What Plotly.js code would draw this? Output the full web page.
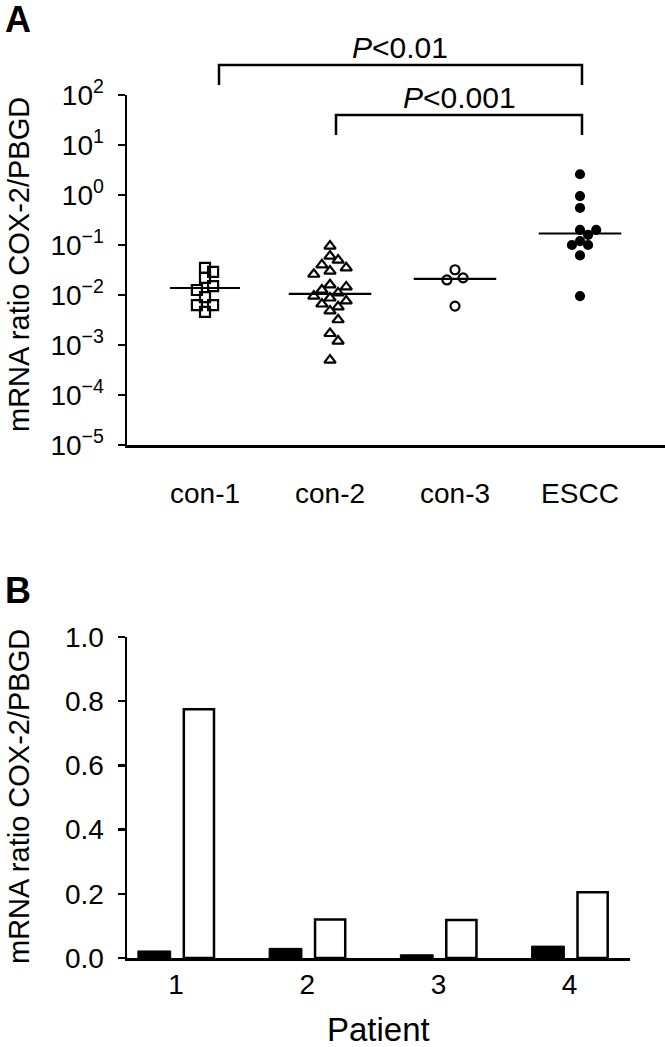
<!DOCTYPE html>
<html>
<head>
<meta charset="utf-8">
<script src="https://cdn.plot.ly/plotly-3.0.1.min.js"></script>
<style>html,body{margin:0;padding:0;background:#fff;}#chart{width:665px;height:1047px;}</style>
</head>
<body>
<div id="chart"></div>
<script>
// ---- Panel A data (mRNA ratio COX-2/PBGD, log scale) ----
const groups = ['con-1', 'con-2', 'con-3', 'ESCC'];
const con1 = [0.035, 0.029, 0.022, 0.015, 0.0126, 0.0091, 0.0063, 0.0063, 0.0046];
const con2 = [0.095, 0.060, 0.050, 0.040, 0.035, 0.030, 0.026, 0.016, 0.0145, 0.0126, 0.011,
              0.0095, 0.0087, 0.0076, 0.0066, 0.0058, 0.0048, 0.0032, 0.0017, 0.0012, 0.0005];
const con3 = [0.032, 0.022, 0.020, 0.006];
const escc = [2.6, 0.95, 0.55, 0.2, 0.2, 0.16, 0.12, 0.1, 0.1, 0.062, 0.0095];
const medians = [0.0138, 0.0105, 0.021, 0.17];
const yTickVals = [1e-5, 1e-4, 1e-3, 1e-2, 1e-1, 1e0, 1e1, 1e2];
const yTickText = ['10<sup>\u22125</sup>', '10<sup>\u22124</sup>', '10<sup>\u22123</sup>', '10<sup>\u22122</sup>',
                   '10<sup>\u22121</sup>', '10<sup>0</sup>', '10<sup>1</sup>', '10<sup>2</sup>'];

// ---- Panel B data ----
const patients = ['1', '2', '3', '4'];
const blackVals = [0.022, 0.030, 0.010, 0.037];
const whiteVals = [0.775, 0.120, 0.118, 0.205];

const FONT = 'Liberation Sans, Arial, Helvetica, sans-serif';
const PX_PER_UNIT = 125, PX_PER_DEC = 50, D = 9;

// simple beeswarm: horizontal offsets computed from the values
function swarm(vals, idx) {
  const pts = vals.map(v => ({v: v, yp: -PX_PER_DEC * Math.log10(v)}));
  pts.sort((a, b) => a.yp - b.yp);
  const placed = [];
  const ks = [0, 1, -1, 2, -2, 3, -3, 4, -4];
  pts.forEach(p => {
    for (const k of ks) {
      const xo = k * D * 0.9;
      if (placed.every(q => Math.hypot(xo - q.xo, p.yp - q.yp) >= D)) { p.xo = xo; break; }
    }
    placed.push(p);
  });
  return {x: pts.map(p => idx + p.xo / PX_PER_UNIT), y: pts.map(p => p.v)};
}

const symbols = ['square-open', 'triangle-up-open', 'circle-open', 'circle'];
const sizes = [10, 10, 9, 8];
const halfWidths = [0.28, 0.33, 0.33, 0.33];
const allData = [con1, con2, con3, escc];
const traces = [];
allData.forEach((vals, i) => {
  const s = swarm(vals, i);
  traces.push({
    type: 'scatter', mode: 'markers', x: s.x, y: s.y, xaxis: 'x', yaxis: 'y',
    marker: {symbol: symbols[i], size: sizes[i], color: 'black', line: {color: 'black', width: 2.2}},
    hoverinfo: 'y'
  });
});
// median lines
medians.forEach((m, i) => {
  traces.push({
    type: 'scatter', mode: 'lines', x: [i - halfWidths[i], i + halfWidths[i]], y: [m, m], xaxis: 'x', yaxis: 'y',
    line: {color: 'black', width: 2.2}, hoverinfo: 'skip'
  });
});
// bars
traces.push({type: 'bar', x: patients, y: blackVals, xaxis: 'x2', yaxis: 'y2', width: 0.25, offset: -0.29,
  marker: {color: 'black', line: {color: 'black', width: 1}}});
traces.push({type: 'bar', x: patients, y: whiteVals, xaxis: 'x2', yaxis: 'y2', width: 0.23, offset: 0.06,
  marker: {color: 'white', line: {color: 'black', width: 2.5}}});

// helpers for paper coords from page pixels
const L = 127, T = 95, B = 89, W = 665, H = 1047;
const pw = W - L, ph = H - T - B;
const px = x => (x - L) / pw;
const py = y => (H - B - y) / ph;

const axisCommon = {showline: true, linecolor: 'black', linewidth: 2.5, showgrid: false, zeroline: false,
  tickfont: {family: FONT, size: 28, color: 'black'}, fixedrange: true};

const layout = {
  width: W, height: H,
  margin: {l: L, r: 0, t: T, b: B},
  paper_bgcolor: 'white', plot_bgcolor: 'white',
  showlegend: false,
  font: {family: FONT, color: 'black'},
  xaxis: Object.assign({}, axisCommon, {domain: [0, 1], anchor: 'y', range: [-0.624, 3.68],
    tickmode: 'array', tickvals: [0, 1, 2, 3], ticktext: groups, ticks: '', ticklabelstandoff: 22}),
  yaxis: Object.assign({}, axisCommon, {domain: [py(445), 1], anchor: 'x', type: 'log', range: [-5, 2],
    tickmode: 'array', tickvals: yTickVals, ticktext: yTickText, ticks: 'outside', ticklen: 7, tickwidth: 2.5,
    tickcolor: 'black', ticklabelstandoff: 8}),
  xaxis2: Object.assign({}, axisCommon, {domain: [0, px(630)], anchor: 'y2', type: 'category',
    range: [-0.373, 3.46], ticks: '', ticklabelstandoff: 0}),
  yaxis2: Object.assign({}, axisCommon, {domain: [0, py(637)], anchor: 'x2', range: [0, 1],
    tickmode: 'array', tickvals: [0, 0.2, 0.4, 0.6, 0.8, 1.0], tickformat: '.1f',
    ticks: 'outside', ticklen: 7, tickwidth: 2.5, tickcolor: 'black', ticklabelstandoff: 8}),
  shapes: [
    {type: 'path', xref: 'paper', yref: 'paper', line: {color: 'black', width: 2.5},
     path: `M ${px(219)},${py(85)} L ${px(219)},${py(65)} L ${px(582)},${py(65)} L ${px(582)},${py(85)}`},
    {type: 'path', xref: 'paper', yref: 'paper', line: {color: 'black', width: 2.5},
     path: `M ${px(336)},${py(135)} L ${px(336)},${py(115)} L ${px(582)},${py(115)} L ${px(582)},${py(135)}`}
  ],
  annotations: [
    {text: '<b>A</b>', xref: 'paper', yref: 'paper', x: px(3), y: py(20), xanchor: 'left', yanchor: 'middle',
     showarrow: false, font: {family: FONT, size: 36, color: 'black'}},
    {text: '<b>B</b>', xref: 'paper', yref: 'paper', x: px(3), y: py(590), xanchor: 'left', yanchor: 'middle',
     showarrow: false, font: {family: FONT, size: 36, color: 'black'}},
    {text: '<i>P</i>&lt;0.01', xref: 'paper', yref: 'paper', x: px(400), y: py(47), xanchor: 'center', yanchor: 'middle',
     showarrow: false, font: {family: FONT, size: 30, color: 'black'}},
    {text: '<i>P</i>&lt;0.001', xref: 'paper', yref: 'paper', x: px(459), y: py(97), xanchor: 'center', yanchor: 'middle',
     showarrow: false, font: {family: FONT, size: 30, color: 'black'}},
    {text: 'mRNA ratio COX-2/PBGD', xref: 'paper', yref: 'paper', x: px(19), y: py(265), xanchor: 'center', yanchor: 'middle',
     textangle: -90, showarrow: false, font: {family: FONT, size: 29, color: 'black'}},
    {text: 'mRNA ratio COX-2/PBGD', xref: 'paper', yref: 'paper', x: px(19), y: py(797), xanchor: 'center', yanchor: 'middle',
     textangle: -90, showarrow: false, font: {family: FONT, size: 29, color: 'black'}},
    {text: 'Patient', xref: 'paper', yref: 'paper', x: px(378), y: py(1029), xanchor: 'center', yanchor: 'middle',
     showarrow: false, font: {family: FONT, size: 33, color: 'black'}}
  ]
};

Plotly.newPlot('chart', traces, layout, {displayModeBar: false, staticPlot: true});
</script>
</body>
</html>
